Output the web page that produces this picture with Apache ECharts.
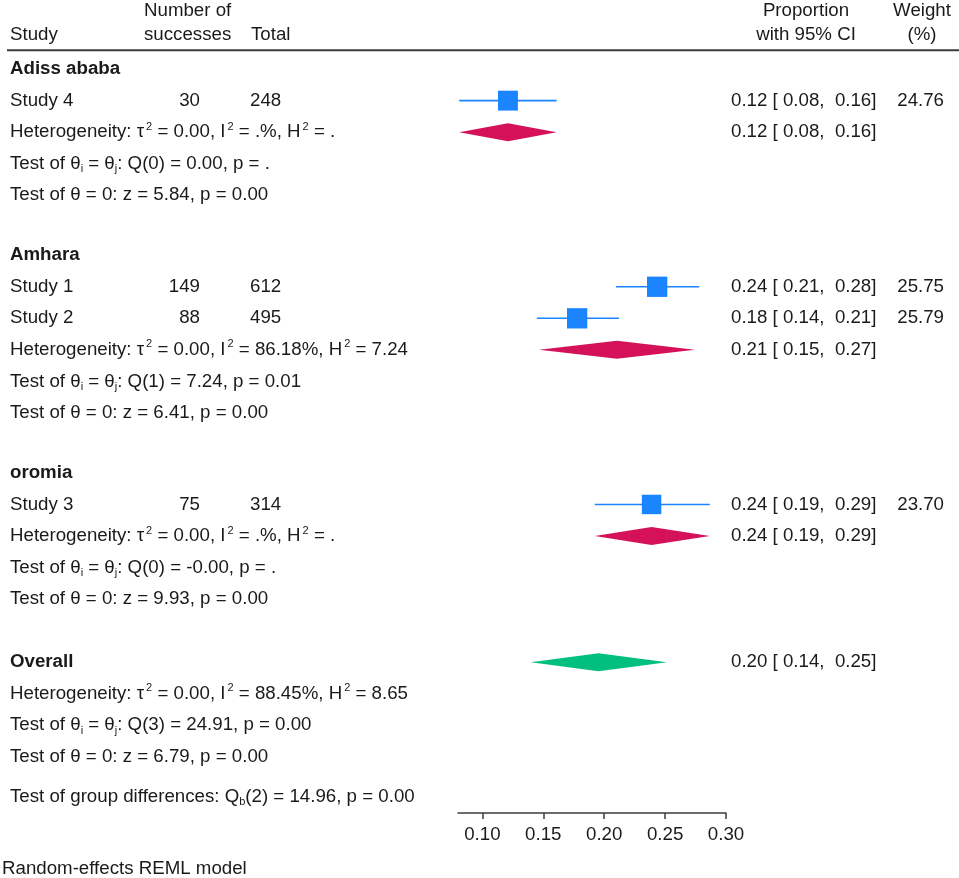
<!DOCTYPE html>
<html>
<head>
<meta charset="utf-8">
<script src="https://cdn.jsdelivr.net/npm/echarts@6/dist/echarts.min.js"></script>
<style>
  html, body { margin: 0; padding: 0; background: #fff; }
  #chart { width: 959px; height: 878px; }
</style>
</head>
<body>
<div id="chart"></div>
<script>
// individual studies
const studyNames = ['Study 4', 'Study 1', 'Study 2', 'Study 3'];
const successes = [30, 149, 88, 75];
const totals = [248, 612, 495, 314];
const studyEst = [0.121, 0.2435, 0.1778, 0.2389];
const studyLo = [0.081, 0.2097, 0.1447, 0.1923];
const studyHi = [0.161, 0.278, 0.2122, 0.2867];
const studyWeight = [24.76, 25.75, 25.79, 23.70];
const studyRow = [1, 6.9, 7.9, 13.8];

// subgroups and overall
const groupNames = ['Adiss ababa', 'Amhara', 'oromia', 'Overall'];
const groupRow = [0, 5.9, 12.8, 18.8];
const poolRow = [2, 8.9, 14.8, 18.8];
const hetRow = [2, 8.9, 14.8, 19.8];
const poolEst = [0.121, 0.2105, 0.2389, 0.1954];
const poolLo = [0.081, 0.1465, 0.1923, 0.1396];
const poolHi = [0.161, 0.2745, 0.2867, 0.2515];
const tau2 = ['0.00', '0.00', '0.00', '0.00'];
const i2 = ['.', '86.18', '.', '88.45'];
const h2 = ['.', '7.24', '.', '8.65'];
const qDf = [0, 1, 0, 3];
const qVal = ['0.00', '7.24', '-0.00', '24.91'];
const qP = ['.', '0.01', '.', '0.00'];
const zVal = ['5.84', '6.41', '9.93', '6.79'];
const zP = ['0.00', '0.00', '0.00', '0.00'];
const groupDiffRow = 23.07;
const qbDf = 2, qbVal = '14.96', qbP = '0.00';

const xTicks = [0.10, 0.15, 0.20, 0.25, 0.30];

const fontFamily = '"Liberation Sans", Arial, sans-serif';
const txtColor = '#1a1a1a';
const lineColor = '#3c3c3c';
const fs = 18.7;

const chart = echarts.init(document.getElementById('chart'));

const option = {
  animation: false,
  grid: { left: 458, width: 268, top: 0, height: 813 },
  xAxis: {
    type: 'value', min: 0.08, max: 0.30,
    axisLine: { show: true, onZero: false, lineStyle: { color: lineColor, width: 1.5 } },
    axisTick: { show: true, customValues: xTicks, length: 6, lineStyle: { color: lineColor, width: 1.5 } },
    axisLabel: { customValues: xTicks, formatter: v => v.toFixed(2), fontSize: fs, fontFamily: fontFamily, color: txtColor, margin: 12 },
    splitLine: { show: false }
  },
  yAxis: { type: 'value', inverse: true, min: -2.19, max: 23.58, show: false },
  series: [
    {
      // confidence intervals
      type: 'custom',
      data: studyLo.map((lo, i) => [lo, studyHi[i], studyRow[i]]),
      encode: { x: [0, 1], y: 2 },
      renderItem: function (params, api) {
        const a = api.coord([api.value(0), api.value(2)]);
        const b = api.coord([api.value(1), api.value(2)]);
        return {
          type: 'line',
          shape: { x1: a[0], y1: a[1], x2: b[0], y2: b[1] },
          style: { stroke: '#1A85FF', lineWidth: 1.6 }
        };
      },
      z: 2
    },
    {
      type: 'scatter',
      data: studyEst.map((e, i) => [e, studyRow[i], studyWeight[i]]),
      symbol: 'rect',
      symbolSize: d => 4 * Math.sqrt(d[2]),
      itemStyle: { color: '#1A85FF', opacity: 1 },
      z: 3
    },
    {
      // pooled diamonds
      type: 'custom',
      data: poolLo.map((lo, i) => [lo, poolEst[i], poolHi[i], poolRow[i], i === 3 ? 1 : 0]),
      encode: { x: [0, 2], y: 3 },
      renderItem: function (params, api) {
        const y = api.value(3);
        const l = api.coord([api.value(0), y]);
        const m = api.coord([api.value(1), y]);
        const r = api.coord([api.value(2), y]);
        const h = 9;
        return {
          type: 'polygon',
          shape: { points: [[l[0], l[1]], [m[0], m[1] - h], [r[0], r[1]], [m[0], m[1] + h]] },
          style: { fill: api.value(4) === 1 ? '#00BF7F' : '#D41159' }
        };
      },
      z: 2
    }
  ]
};
chart.setOption(option);

// table text
const py = r => chart.convertToPixel({ yAxisIndex: 0 }, r);
const rich = {
  sup: { fontSize: 11, fontFamily: fontFamily, fill: txtColor, verticalAlign: 'top', lineHeight: 10, padding: [0, 0, 0, 2] },
  sub: { fontSize: 11, fontFamily: fontFamily, fill: txtColor, verticalAlign: 'bottom', lineHeight: 11 }
};
function txt(s, x, row, align, bold) {
  return {
    type: 'text',
    style: {
      text: s, x: x, y: py(row), fill: txtColor,
      fontSize: fs, fontFamily: fontFamily, fontWeight: bold ? 'bold' : 'normal',
      align: align || 'left', verticalAlign: 'middle', lineHeight: 22, rich: rich
    }
  };
}
const fmtCI = (e, l, h) => e.toFixed(2) + ' [ ' + l.toFixed(2) + ',  ' + h.toFixed(2) + ']';

const g = [];
// header
g.push(txt('Number of', 144, -1.84));
g.push(txt('Study', 10, -1.08));
g.push(txt('successes', 144, -1.08));
g.push(txt('Total', 251, -1.08));
g.push(txt('Proportion', 806, -1.84, 'center'));
g.push(txt('with 95% CI', 806, -1.08, 'center'));
g.push(txt('Weight', 922, -1.84, 'center'));
g.push(txt('(%)', 922, -1.08, 'center'));
g.push({ type: 'line', shape: { x1: 7, y1: py(-0.6), x2: 959, y2: py(-0.6) }, style: { stroke: lineColor, lineWidth: 2 } });

studyNames.forEach((n, i) => {
  const r = studyRow[i];
  g.push(txt(n, 10, r));
  g.push(txt(String(successes[i]), 200, r, 'right'));
  g.push(txt(String(totals[i]), 250, r));
  g.push(txt(fmtCI(studyEst[i], studyLo[i], studyHi[i]), 731, r));
  g.push(txt(studyWeight[i].toFixed(2), 944, r, 'right'));
});

groupNames.forEach((n, i) => {
  g.push(txt(n, 10, groupRow[i], 'left', true));
  g.push(txt(fmtCI(poolEst[i], poolLo[i], poolHi[i]), 731, poolRow[i]));
  g.push(txt('Heterogeneity: τ{sup|2} = ' + tau2[i] + ', I{sup|2} = ' + i2[i] + '%, H{sup|2} = ' + h2[i], 10, hetRow[i]));
  g.push(txt('Test of θ{sub|i} = θ{sub|j}: Q(' + qDf[i] + ') = ' + qVal[i] + ', p = ' + qP[i], 10, hetRow[i] + 1));
  g.push(txt('Test of θ = 0: z = ' + zVal[i] + ', p = ' + zP[i], 10, hetRow[i] + 2));
});

g.push(txt('Test of group differences: Q{sub|b}(' + qbDf + ') = ' + qbVal + ', p = ' + qbP, 10, groupDiffRow));
g.push({
  type: 'text',
  style: { text: 'Random-effects REML model', x: 2, y: 869, fill: txtColor, fontSize: fs, fontFamily: fontFamily, align: 'left', verticalAlign: 'middle' }
});

chart.setOption({ graphic: g });
</script>
</body>
</html>
